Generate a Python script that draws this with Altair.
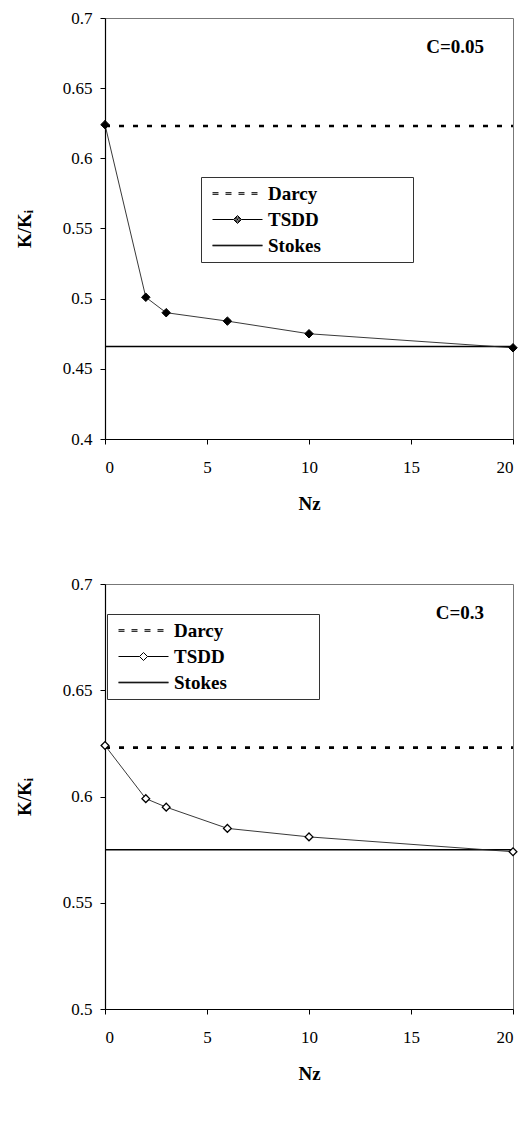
import altair as alt
import pandas as pd

# ---- data ----
nz = [0, 2, 3, 6, 10, 20]
nz_ends = [0, 20]
tsdd_a = [0.624, 0.501, 0.490, 0.484, 0.475, 0.465]
darcy_a = [0.623, 0.623]
stokes_a = [0.466, 0.466]
tsdd_b = [0.624, 0.599, 0.595, 0.585, 0.581, 0.574]
darcy_b = [0.623, 0.623]
stokes_b = [0.575, 0.575]
series_names = ["Darcy", "TSDD", "Stokes"]
x_ticks = [0, 5, 10, 15, 20]
y_ticks_a = [0.4, 0.45, 0.5, 0.55, 0.6, 0.65, 0.7]
y_ticks_b = [0.5, 0.55, 0.6, 0.65, 0.7]
panel_labels = ["C=0.05", "C=0.3"]

FONT = "Liberation Serif"

# legend symbols drawn as stroked paths (unit = 10 px)
DARCY_PATH = ("M-2.5,-0.08H-1.9M-2.5,0.08H-1.9M-1.2,-0.08H-0.6M-1.2,0.08H-0.6"
              "M0.1,-0.08H0.7M0.1,0.08H0.7M1.4,-0.08H2.0M1.4,0.08H2.0")
STOKES_PATH = "M-2.5,-0.03H2.5M-2.5,0.03H2.5"
TSDD_OPEN = "M-2.5,0H-0.4M0,-0.4L0.4,0L0,0.4L-0.4,0ZM0.4,0H2.5"
TSDD_FILLED = (TSDD_OPEN + "M0,-0.28L0.28,0L0,0.28L-0.28,0Z"
               "M0,-0.16L0.16,0L0,0.16L-0.16,0ZM-0.06,0H0.06")
PAD = "\u00a0" * 18 + "\u200b"


def panel(tsdd, darcy, stokes, ydomain, yticks, label, filled, lx, ly, w, h):
    df = pd.concat([
        pd.DataFrame({"Nz": nz_ends, "K": darcy, "series": "Darcy"}),
        pd.DataFrame({"Nz": nz, "K": tsdd, "series": "TSDD"}),
        pd.DataFrame({"Nz": nz_ends, "K": stokes, "series": "Stokes"}),
    ], ignore_index=True)
    x = alt.X("Nz:Q", scale=alt.Scale(domain=[0, 20], nice=False),
              axis=alt.Axis(values=x_ticks, title="Nz", format="d"))
    y = alt.Y("K:Q", scale=alt.Scale(domain=ydomain, nice=False, zero=False),
              axis=alt.Axis(values=yticks, title="K/Kᵢ", format=".2~f"))
    base = alt.Chart(df)
    darcy_line = base.transform_filter("datum.series == 'Darcy'").mark_line(
        color="black", strokeWidth=2.6, strokeDash=[5, 9]).encode(x=x, y=y)
    stokes_line = base.transform_filter("datum.series == 'Stokes'").mark_line(
        color="black", strokeWidth=1.5).encode(x=x, y=y)
    tsdd_line = base.transform_filter("datum.series == 'TSDD'").mark_line(
        color="#222222", strokeWidth=0.9).encode(x=x, y=y)
    fill_col = "black" if filled else "white"
    pts = base.transform_filter("datum.series == 'TSDD'").mark_point(
        shape="diamond", size=72 if filled else 60, fill=fill_col, stroke="black",
        strokeWidth=1.0 if filled else 1.3, opacity=1, fillOpacity=1).encode(x=x, y=y)

    paths = [DARCY_PATH, TSDD_FILLED if filled else TSDD_OPEN, STOKES_PATH]
    leg = alt.Legend(
        title=None, orient="none", legendX=lx, legendY=ly, direction="vertical",
        padding=6, strokeColor="#333333", fillColor="white",
        symbolSize=400, symbolOffset=20, labelOffset=20, rowPadding=5, labelLimit=400,
        symbolStrokeWidth=1, symbolStrokeColor="black",
        labelFont=FONT, labelFontSize=19, labelFontWeight="bold", labelColor="black",
        labelExpr="datum.label + '" + PAD + "'",
    )
    legend_layer = base.transform_filter("datum.Nz < 0").mark_point(
        filled=False, color="black", strokeWidth=1, opacity=1).encode(
        x=x, y=y,
        shape=alt.Shape("series:N", scale=alt.Scale(domain=series_names, range=paths), legend=leg),
    )
    txt = alt.Chart(pd.DataFrame({"t": [label]})).mark_text(
        font=FONT, fontSize=19, fontWeight="bold", align="right", baseline="middle", color="black"
    ).encode(text="t:N", x=alt.value(w - 29), y=alt.value(29))
    return alt.layer(darcy_line, stokes_line, tsdd_line, pts, legend_layer, txt).properties(width=w, height=h)


top = panel(tsdd_a, darcy_a, stokes_a, [0.4, 0.7], y_ticks_a, panel_labels[0], True, 96, 159, 408, 421)
bottom = panel(tsdd_b, darcy_b, stokes_b, [0.5, 0.7], y_ticks_b, panel_labels[1], False, 2, 30, 408, 425)

chart = alt.vconcat(top, bottom, spacing=60).resolve_scale(
    shape="independent"
).resolve_legend(shape="independent").properties(
    padding={"left": 14, "top": 8, "right": 5, "bottom": 5}
).configure_view(stroke="#777777", strokeWidth=1).configure_axis(
    grid=False, domainColor="black", domainWidth=1.2, tickColor="black", tickSize=5,
    labelFont=FONT, labelFontSize=17, labelColor="black",
    titleFont=FONT, titleFontSize=19, titleFontWeight="bold", titleColor="black",
).configure_axisX(labelPadding=15, titlePadding=19).configure_axisY(labelPadding=8, titlePadding=28)

chart.save("out.html", embed_options={"renderer": "svg", "actions": False})
